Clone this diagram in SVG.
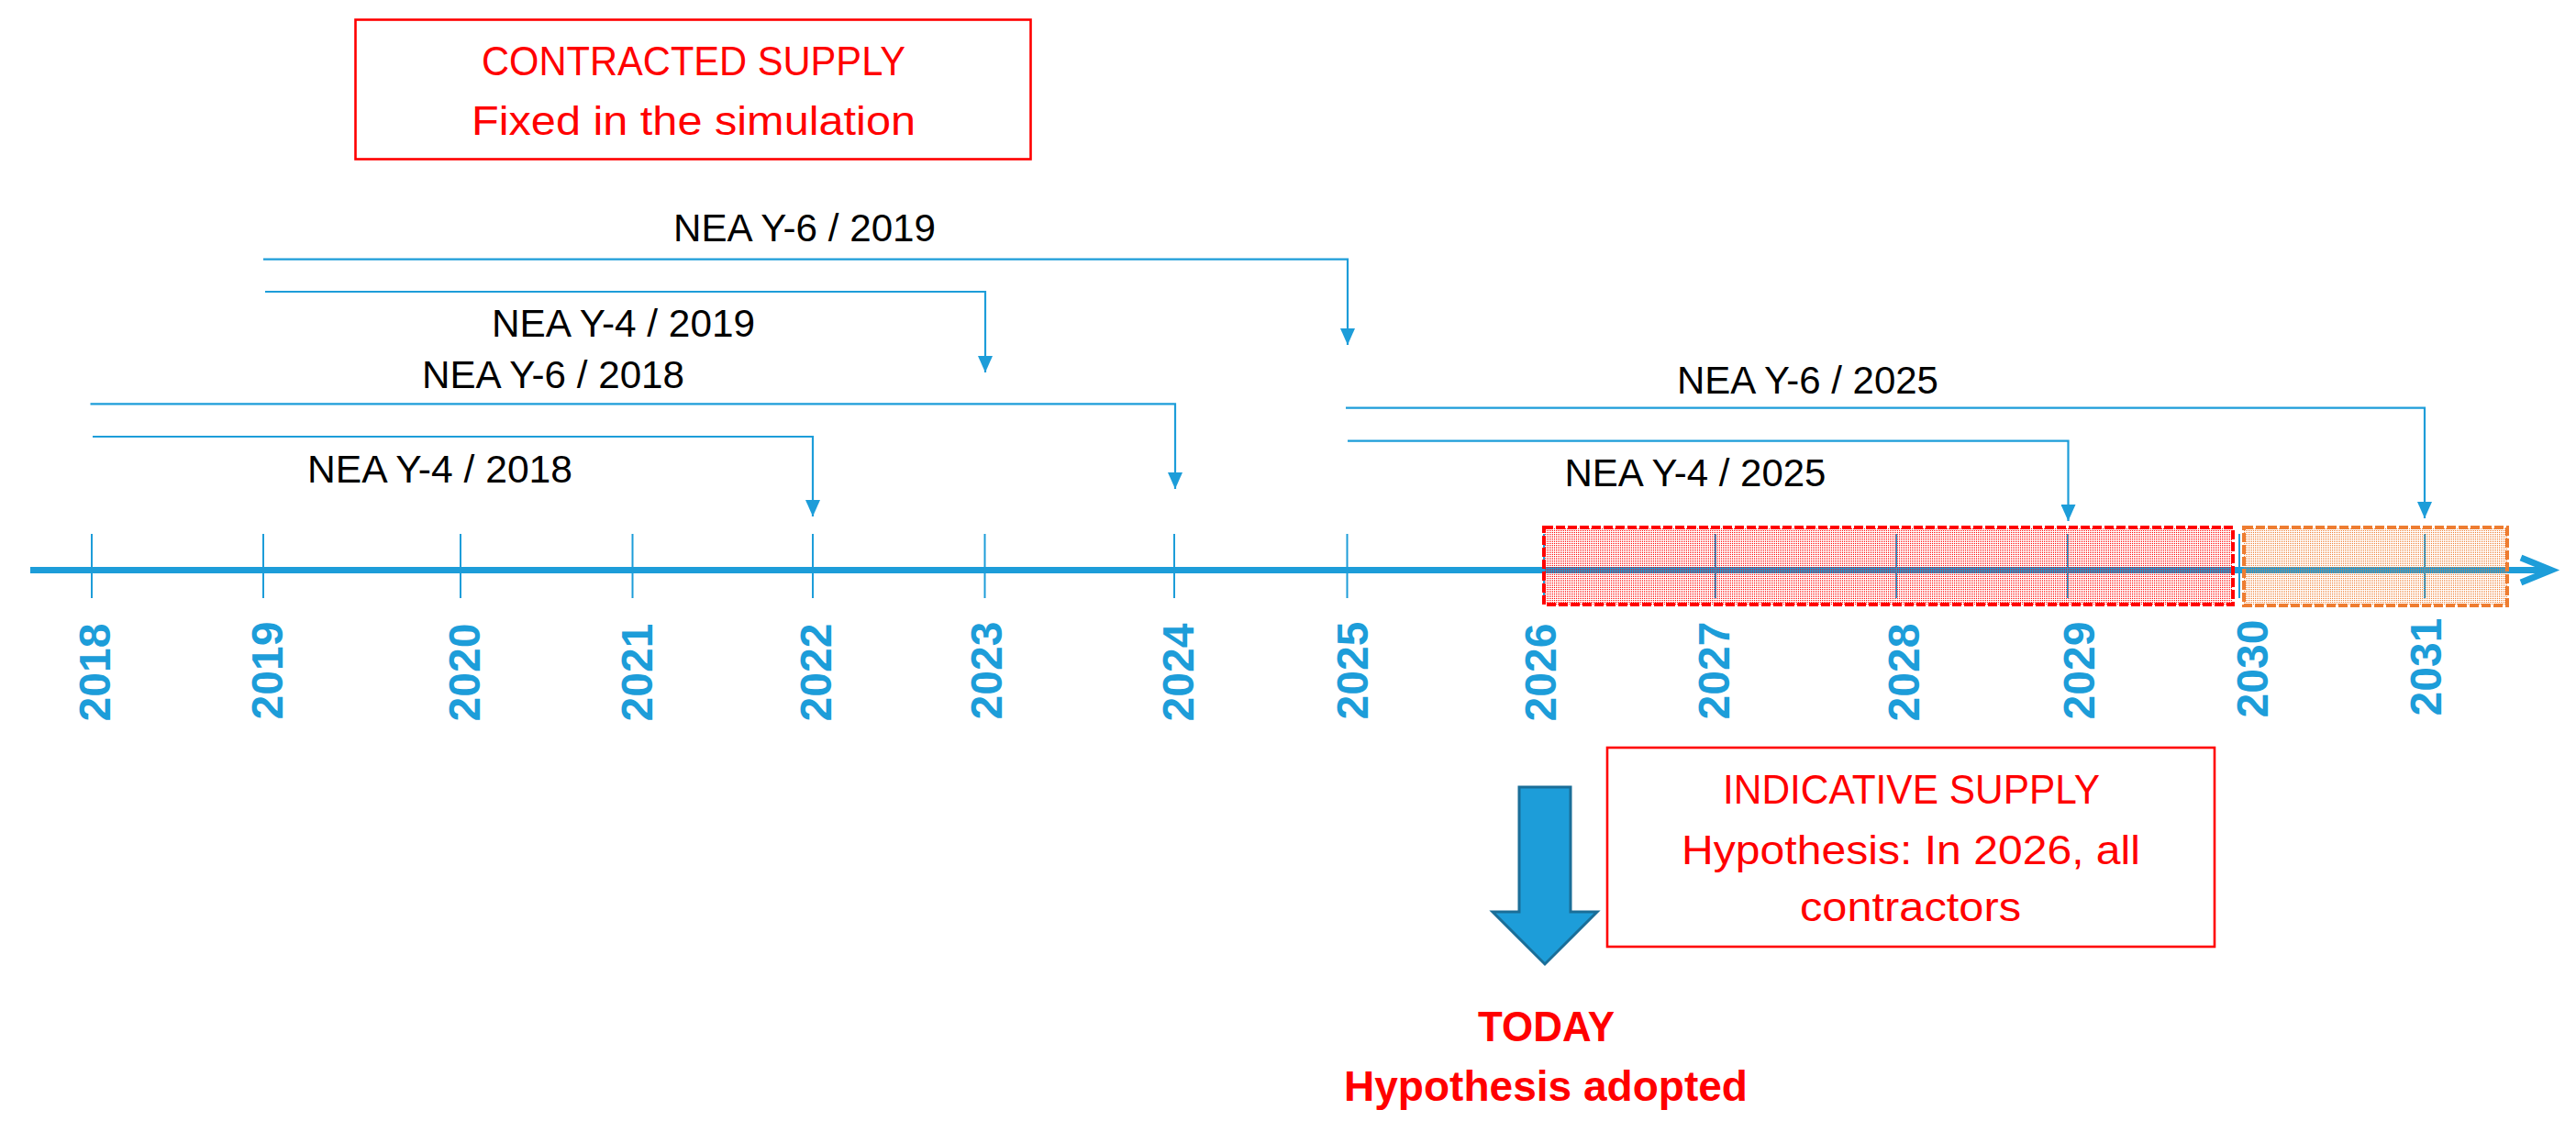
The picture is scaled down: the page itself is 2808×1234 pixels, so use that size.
<svg xmlns="http://www.w3.org/2000/svg" width="2808" height="1234" viewBox="0 0 2808 1234">
<defs>
<style>
.lbl{font-family:"Liberation Sans",Arial,sans-serif;font-size:42px;fill:#000;text-anchor:middle}
.red{font-family:"Liberation Sans",Arial,sans-serif;font-size:44px;fill:#ff0000;text-anchor:middle}
.redb{font-family:"Liberation Sans",Arial,sans-serif;font-size:46px;font-weight:bold;fill:#ff0000;text-anchor:middle}
.yr{font-family:"Liberation Sans",Arial,sans-serif;font-size:48px;font-weight:bold;fill:#1d9dd9;text-anchor:middle}
.tick{stroke:#1d9dd9;stroke-width:2;fill:none}
.conn{stroke:#1d9dd9;stroke-width:2.2;fill:none;marker-end:url(#ah)}
.box{fill:#fff;stroke:#ff0000;stroke-width:2.6}
</style>
<marker id="ah" markerUnits="userSpaceOnUse" markerWidth="18" markerHeight="16" viewBox="0 0 18 16" refX="18" refY="8" orient="auto">
<path d="M0,0 L18,8 L0,16 Z" fill="#1d9dd9"/>
</marker>
<pattern id="pr" width="2" height="2" patternUnits="userSpaceOnUse"><rect width="1" height="1" fill="#ff0000"/></pattern>
<pattern id="po" width="2" height="2" patternUnits="userSpaceOnUse"><rect width="1" height="1" fill="#ee7d31"/></pattern>
</defs>
<rect width="2808" height="1234" fill="#fff"/>

<g id="axis">
<line x1="33" y1="621.5" x2="2780" y2="621.5" stroke="#1d9dd9" stroke-width="7"/>
<g class="tick">
<line x1="100" y1="582" x2="100" y2="652"/>
<line x1="287" y1="582" x2="287" y2="652"/>
<line x1="502" y1="582" x2="502" y2="652"/>
<line x1="689.5" y1="582" x2="689.5" y2="652"/>
<line x1="886" y1="582" x2="886" y2="652"/>
<line x1="1073.5" y1="582" x2="1073.5" y2="652"/>
<line x1="1280" y1="582" x2="1280" y2="652"/>
<line x1="1468.5" y1="582" x2="1468.5" y2="652"/>
<line x1="1683" y1="582" x2="1683" y2="652"/>
<line x1="1870" y1="582" x2="1870" y2="652"/>
<line x1="2067" y1="582" x2="2067" y2="652"/>
<line x1="2254" y1="582" x2="2254" y2="652"/>
<line x1="2441" y1="582" x2="2441" y2="652"/>
<line x1="2643" y1="582" x2="2643" y2="652"/>
</g>
</g>

<g id="period-indicative">
<rect x="1683" y="575" width="751" height="84" fill="url(#pr)" stroke="#ff0000" stroke-width="4" stroke-dasharray="10 3"/>
</g>
<g id="period-later">
<rect x="2446" y="575" width="287" height="85" fill="url(#po)" stroke="#ee7d31" stroke-width="4" stroke-dasharray="10 3"/>
</g>
<g id="axis-head">
<polyline points="2748,608 2781,621.5 2748,635" fill="none" stroke="#1d9dd9" stroke-width="7" stroke-linejoin="miter"/>
</g>

<g id="years">
<text class="yr" transform="translate(120,733) rotate(-90)">2018</text>
<text class="yr" transform="translate(308,731) rotate(-90)">2019</text>
<text class="yr" transform="translate(522.5,733) rotate(-90)">2020</text>
<text class="yr" transform="translate(711,733) rotate(-90)">2021</text>
<text class="yr" transform="translate(906,733) rotate(-90)">2022</text>
<text class="yr" transform="translate(1091.5,731) rotate(-90)">2023</text>
<text class="yr" transform="translate(1301,733) rotate(-90)">2024</text>
<text class="yr" transform="translate(1491,731) rotate(-90)">2025</text>
<text class="yr" transform="translate(1696,733) rotate(-90)">2026</text>
<text class="yr" transform="translate(1884.5,731) rotate(-90)">2027</text>
<text class="yr" transform="translate(2091.5,733) rotate(-90)">2028</text>
<text class="yr" transform="translate(2283,731) rotate(-90)">2029</text>
<text class="yr" transform="translate(2472,729) rotate(-90)">2030</text>
<text class="yr" transform="translate(2661,727) rotate(-90)">2031</text>
</g>

<g id="connectors">
<path class="conn" d="M287,282.7 H1469 V376"/>
<path class="conn" d="M289,318 H1074 V406"/>
<path class="conn" d="M98.5,440.3 H1281 V533"/>
<path class="conn" d="M101,476 H886 V563"/>
<path class="conn" d="M1467,444.7 H2643 V565"/>
<path class="conn" d="M1469,480.7 H2254.5 V568"/>
</g>

<g id="labels">
<text class="lbl" x="877" y="263.3" textLength="286" lengthAdjust="spacingAndGlyphs">NEA Y-6 / 2019</text>
<text class="lbl" x="679.5" y="366.7" textLength="287" lengthAdjust="spacingAndGlyphs">NEA Y-4 / 2019</text>
<text class="lbl" x="603" y="423.3" textLength="286" lengthAdjust="spacingAndGlyphs">NEA Y-6 / 2018</text>
<text class="lbl" x="479.5" y="526" textLength="289" lengthAdjust="spacingAndGlyphs">NEA Y-4 / 2018</text>
<text class="lbl" x="1970.5" y="429" textLength="285" lengthAdjust="spacingAndGlyphs">NEA Y-6 / 2025</text>
<text class="lbl" x="1848" y="530" textLength="285" lengthAdjust="spacingAndGlyphs">NEA Y-4 / 2025</text>
</g>

<g id="contracted-supply">
<rect class="box" x="387.5" y="21.5" width="736" height="152"/>
<text class="red" x="756" y="82" textLength="462" lengthAdjust="spacingAndGlyphs">CONTRACTED SUPPLY</text>
<text class="red" x="756" y="146.7" textLength="484" lengthAdjust="spacingAndGlyphs">Fixed in the simulation</text>
</g>

<g id="indicative-supply">
<rect class="box" x="1752" y="815" width="662" height="217" stroke-width="2.8"/>
<text class="red" x="2083.5" y="876" textLength="411" lengthAdjust="spacingAndGlyphs">INDICATIVE SUPPLY</text>
<text class="red" x="2083" y="941.7" textLength="500" lengthAdjust="spacingAndGlyphs">Hypothesis: In 2026, all</text>
<text class="red" x="2082.5" y="1004" textLength="241" lengthAdjust="spacingAndGlyphs">contractors</text>
</g>

<g id="today">
<polygon points="1656,858 1712,858 1712,994 1741,994 1684,1051 1627,994 1656,994" fill="#1d9dd9" stroke="#1a6e98" stroke-width="3" stroke-linejoin="miter"/>
<text class="redb" x="1685.5" y="1135" textLength="149" lengthAdjust="spacingAndGlyphs">TODAY</text>
<text class="redb" x="1685" y="1200" textLength="440" lengthAdjust="spacingAndGlyphs">Hypothesis adopted</text>
</g>
</svg>
